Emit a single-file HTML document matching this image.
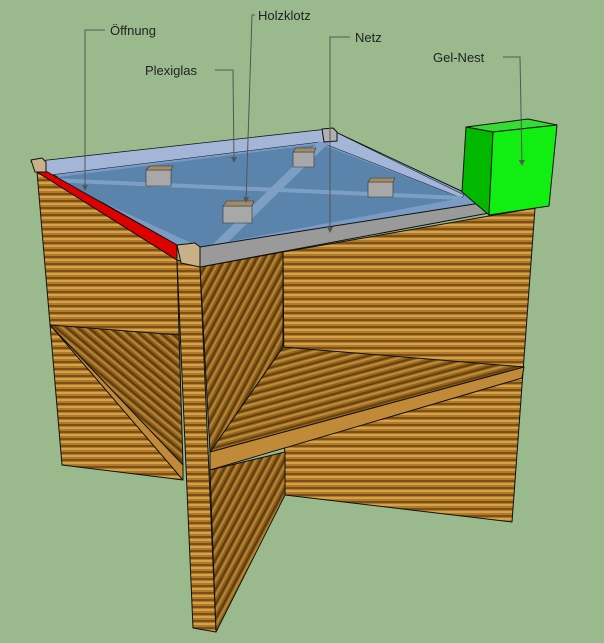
<!DOCTYPE html>
<html><head><meta charset="utf-8"><style>
html,body{margin:0;padding:0;background:#9aba8e;}
svg{display:block}
text{font-family:"Liberation Sans",sans-serif;font-size:13px;fill:#222}
</style></head><body>
<svg width="604" height="643" viewBox="0 0 604 643" xmlns="http://www.w3.org/2000/svg">
<defs>
<pattern id="wh" width="8" height="7" patternUnits="userSpaceOnUse">
<rect width="8" height="7" fill="#b07a2a"/><rect y="0" width="8" height="2" fill="#d6a246"/><rect y="4" width="8" height="2" fill="#7a5018"/>
</pattern>
<pattern id="wd" width="7" height="7" patternUnits="userSpaceOnUse" patternTransform="rotate(-62)">
<rect width="7" height="7" fill="#8a5e1e"/><rect width="7" height="2" fill="#b7842e"/><rect y="4" width="7" height="2" fill="#5e3c10"/>
</pattern>
<pattern id="wd2" width="7" height="7" patternUnits="userSpaceOnUse" patternTransform="rotate(40)">
<rect width="7" height="7" fill="#8a5e1e"/><rect width="7" height="2" fill="#b7842e"/><rect y="4" width="7" height="2" fill="#5e3c10"/>
</pattern>
<pattern id="wf" width="7" height="7" patternUnits="userSpaceOnUse" patternTransform="rotate(-15)">
<rect width="7" height="7" fill="#94661f"/><rect width="7" height="2" fill="#c08d36"/><rect y="4" width="7" height="2" fill="#664210"/>
</pattern>
<marker id="ar" markerWidth="6" markerHeight="6" refX="5" refY="3" orient="auto"><path d="M0,0 L6,3 L0,6 z" fill="#555"/></marker>
</defs>
<g stroke="#111" stroke-width="1" stroke-linejoin="round">
<polygon points="37,172 177,260 183,480 62,465" fill="url(#wh)"/>
<polygon points="50,325 179,335 183,465" fill="url(#wd2)"/>
<polygon points="50,325 57,333 183,480 183,465" fill="#c08a38"/>
<polygon points="283,252 535,208 512,522 285,495" fill="url(#wh)"/>
<polygon points="283,347 524,367 210,452" fill="url(#wf)"/>
<polygon points="210,452 524,367 522,378 210,470" fill="#c08a38"/>
<polygon points="200,267 283,252 283,347 210,452" fill="url(#wd)"/>
<polygon points="210,470 285,452 285,495 216,632" fill="url(#wd)"/>
<polygon points="177,260 200,267 216,632 193,628" fill="url(#wh)"/>
<polygon points="31,162 329,129 489,204 200,248 177,245" fill="#7a9cc4"/>
<polygon points="31,162 329,129 464,195 462,198 320,142 50,175" fill="#a3b6d8" stroke-width="0.5"/>
<polygon points="50,178 320,144 462,198 200,247" fill="#5b84ad" stroke="none"/>
<polygon points="210,247 318,142 330,142 222,248" fill="#7d9fc4" stroke="none"/>
<polygon points="50,178 462,196 462,200 50,182" fill="#7d9fc4" stroke="none"/>
<g fill="#a8a8a8" stroke="#333" stroke-width="0.6">
<polygon points="146,170 171,170 171,186 146,186"/><polygon points="146,170 150,166 173,166 171,170" fill="#a68b62"/>
<polygon points="223,206 252,206 252,223 223,223"/><polygon points="223,206 227,201 254,201 252,206" fill="#a68b62"/>
<polygon points="293,152 314,152 314,167 293,167"/><polygon points="293,152 296,148 316,148 314,152" fill="#a68b62"/>
<polygon points="368,182 393,182 393,197 368,197"/><polygon points="368,182 371,178 395,178 393,182" fill="#a68b62"/>
</g>
<polygon points="200,247 487,202 489,213 200,267" fill="#9a9a9a"/>
<polygon points="35,165 177,245 177,260 37,172" fill="#dd0000"/>
<polygon points="177,245 195,243 200,247 200,267 181,263" fill="#c8b088"/>
<polygon points="31,160 42,158 46,162 46,172 35,172" fill="#c8b088"/>
<polygon points="322,129 333,128 337,132 337,141 324,142" fill="#b0b0b0"/>
<polygon points="466,127 528,119 557,125 493,132" fill="#33dd33"/>
<polygon points="466,127 493,132 489,215 462,192" fill="#00b800"/>
<polygon points="493,132 557,125 549,206 489,215" fill="#11ee11"/>
</g>
<g stroke="#555" stroke-width="1" fill="none">
<polyline points="105,30 85,30 85,190" marker-end="url(#ar)"/>
<polyline points="215,70 233,70 234,162" marker-end="url(#ar)"/>
<polyline points="255,15 252,15 246,202" marker-end="url(#ar)"/>
<polyline points="350,37 330,37 330,232" marker-end="url(#ar)"/>
<polyline points="503,57 520,57 522,165" marker-end="url(#ar)"/>
</g>
<text x="110" y="35">Öffnung</text>
<text x="145" y="75">Plexiglas</text>
<text x="258" y="20">Holzklotz</text>
<text x="355" y="42">Netz</text>
<text x="433" y="62">Gel-Nest</text>
</svg>
</body></html>
